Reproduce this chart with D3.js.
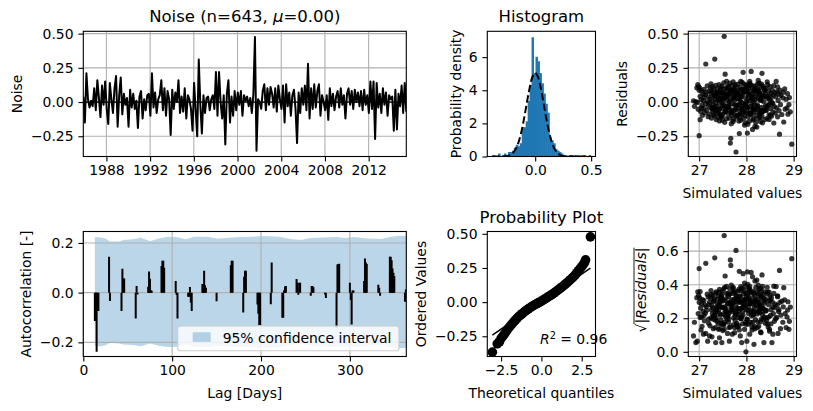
<!DOCTYPE html>
<html><head><meta charset="utf-8">
<script src="https://cdn.jsdelivr.net/npm/d3@7"></script>
<style>body{margin:0;background:#fff}svg text{font-family:"DejaVu Sans",sans-serif}</style>
</head><body><svg id="c" width="813" height="411"></svg>
<script>
// ---------------- DATA ----------------
const noiseStart = new Date(1985, 10, 20), noiseEnd = new Date(2015, 5, 12);
const noiseValues = [
0.04,-0.15,0.21,0.02,-0.04,0.01,-0.03,
0.10,-0.06,0.16,0.03,-0.11,0.12,-0.02,
0.15,-0.05,-0.16,0.14,0.02,-0.08,0.10,
0.19,-0.18,0.05,0.18,-0.09,0.06,-0.02,
0.03,-0.18,0.09,-0.04,0.06,-0.05,0.01,
-0.19,0.04,0.08,-0.12,0.02,-0.06,0.05,
0.06,-0.10,0.21,-0.04,0.07,-0.08,0.02,
0.05,0.16,-0.06,0.10,-0.10,0.08,0.02,
-0.24,0.09,-0.05,0.07,0.00,0.16,-0.08,
0.04,-0.07,0.10,-0.12,0.05,0.02,-0.05,
-0.21,0.14,-0.06,-0.25,0.31,-0.02,-0.23,
0.05,-0.08,0.03,0.04,-0.06,0.02,0.05,
-0.05,0.22,-0.10,0.22,0.00,-0.12,0.05,
-0.31,0.06,0.16,-0.15,0.04,-0.10,0.08,
-0.06,0.07,-0.02,0.08,-0.10,0.05,0.01,0.04,-0.03,
0.03,-0.08,0.06,0.475,-0.356,0.02,0.00,
-0.05,0.08,0.13,-0.06,0.10,-0.02,0.11,
0.06,-0.04,0.10,-0.07,0.12,0.02,-0.05,
0.12,-0.15,0.13,-0.03,0.07,-0.10,0.05,
0.09,-0.05,-0.30,0.07,-0.08,0.10,-0.02,
0.12,-0.06,0.28,-0.12,0.10,-0.05,0.13,
-0.04,0.08,0.13,-0.10,0.05,0.00,-0.06,
0.05,-0.13,0.10,-0.03,0.06,-0.06,0.04,
0.08,-0.04,0.10,-0.02,0.05,-0.12,0.06,
0.10,-0.02,0.08,-0.05,0.09,0.00,0.07,
-0.03,0.08,-0.06,0.09,-0.02,0.05,-0.08,
0.15,-0.05,0.15,-0.27,0.14,-0.04,0.06,
-0.08,0.10,-0.02,0.07,-0.10,0.05,0.02,
0.04,-0.21,0.09,-0.20,0.06,-0.03,0.12,
-0.08,0.14,-0.07];
const noiseYearTicks = [1988, 1992, 1996, 2000, 2004, 2008, 2012];
const noiseYTicks = [-0.25, 0, 0.25, 0.5];

const acfLags = [13,14,15,16,17, 29,30, 43,44,45,46, 59,60,61, 73,74,75,76,77, 88,89,90,91, 104,105,106,
  118,119,120,121,122, 134,135,136,137,138, 150, 166,167,168, 180,181,182,183, 196,197,198,199, 211,212,
  224,225,226,227,228, 240,241,242,243,244, 256,257,258,259, 272,273, 285,286,287,288, 300,301,302,303,304,
  316,317,318,319, 332,333,334, 345,346,347,348,349,350, 362,363];
const acfValues = [-0.114,-0.114,-0.238,-0.074,-0.074, 0.144,-0.034, -0.074,0.096,0.057,0.057, -0.104,0.027,-0.008,
  0.024,0.085,0.056,0.01,0.008, 0.107,0.128,0.128,0.10, 0.047,-0.01,-0.104, -0.017,-0.017,0.023,-0.04,-0.074,
  0.035,0.035,0.088,0.03,0.02, -0.035, 0.11,0.128,0.128, -0.08,0.064,0.088,0.088, -0.048,-0.085,-0.13,-0.13,
  -0.047,0.121, -0.101,-0.101,0.01,0.025,0.027, 0.055,0.04,-0.009,0.04,0.04, -0.013,0.027,0.027,0.022,
  -0.008,-0.022, -0.14,0.113,0.115,0.116, 0.04,-0.03,-0.128,0.009,0.009, 0.047,0.137,0.121,0.115,
  0.032,0.02,-0.013, 0.144,0.144,0.13,0.097,0.08,0.067, -0.037,0.013];
const confLags = [13,20,25,30,40,45,55,65,75,85,95,105,115,125,140,150,160,175,190,205,220,235,245,255,270,285,295,305,320,335,345,355,365];
const confUpper = [0.224,0.222,0.218,0.206,0.206,0.212,0.215,0.221,0.207,0.218,0.225,0.224,0.215,0.225,0.225,0.218,0.22,0.224,0.225,0.228,0.225,0.215,0.212,0.22,0.222,0.224,0.22,0.224,0.218,0.216,0.224,0.229,0.228];
const confLower = [-0.214,-0.216,-0.212,-0.203,-0.205,-0.209,-0.211,-0.216,-0.205,-0.214,-0.219,-0.218,-0.21,-0.219,-0.22,-0.213,-0.215,-0.219,-0.22,-0.223,-0.22,-0.21,-0.207,-0.215,-0.217,-0.219,-0.215,-0.219,-0.213,-0.212,-0.219,-0.224,-0.223];
const acfXTicks = [0, 100, 200, 300];
const acfYTicks = [-0.2, 0, 0.2];

const histLo = -0.384, histHi = 0.495;
const histDensity = [0.09,0,0,0.18,0,0.09,0.18,0.09,0.27,0.27,0.35,0.53,0.71,0.62,0.8,1.77,1.77,2.12,3.36,4.33,
  7.2,5.04,6.02,5.75,5.04,4.42,3.8,3.19,2.65,1.15,0.97,0.8,0.44,0.35,0.27,0.18,0.09,0.09,0,0.09,
  0.09,0,0.09,0.09,0,0,0.09,0,0,0.09];
const normX = [-0.384,-0.35,-0.3,-0.275,-0.25,-0.225,-0.2,-0.175,-0.15,-0.125,-0.1,-0.075,-0.05,-0.025,0,
  0.025,0.05,0.075,0.1,0.125,0.15,0.175,0.2,0.225,0.25,0.275,0.3,0.35,0.4,0.45,0.495];
const normY = [0,0.0003,0.004,0.012,0.034,0.087,0.206,0.435,0.835,1.45,2.27,3.22,4.13,4.80,5.05,
  4.80,4.13,3.22,2.27,1.45,0.835,0.435,0.206,0.087,0.034,0.012,0.004,0.0003,0,0,0];
const histXTicks = [0, 0.5];
const histYTicks = [0, 2, 4, 6];

const probQ = [-3.04,-2.74,-2.6,-2.5,-2.4,-2.3,-2.2,-2.1,-2.0,-1.9,-1.8,-1.7,-1.6,-1.5,-1.4,-1.3,-1.2,-1.1,-1.0,-0.9,
  -0.8,-0.7,-0.6,-0.5,-0.4,-0.3,-0.2,-0.1,0.0,0.1,0.2,0.3,0.4,0.5,0.6,0.7,0.8,0.9,1.0,1.1,1.2,1.3,1.4,1.5,1.6,
  1.7,1.8,1.9,2.0,2.1,2.2,2.3,2.4,2.5,2.6,2.68,2.74,3.04];
const probV = [-0.366,-0.305,-0.29,-0.265,-0.25,-0.235,-0.218,-0.2,-0.185,-0.17,-0.157,-0.143,-0.13,-0.117,-0.105,
  -0.095,-0.085,-0.075,-0.066,-0.057,-0.049,-0.041,-0.033,-0.026,-0.019,-0.012,-0.005,0.001,0.008,0.015,0.022,
  0.03,0.037,0.045,0.052,0.06,0.068,0.077,0.086,0.095,0.104,0.113,0.123,0.133,0.143,0.153,0.164,0.175,0.187,
  0.2,0.215,0.23,0.245,0.26,0.275,0.29,0.31,0.478];
const probLineQ = [-3.04, 3.04];
const probLineV = [-0.241, 0.249];
const probR2 = "0.96";
const probXTicks = [-2.5, 0, 2.5];

const simX = [
 26.88,26.9,26.93,26.95,26.97,26.98,26.99,27.0,27.0,26.96,
 27.01,27.02,27.02,27.03,27.04,27.05,27.06,27.07,27.08,27.09,27.1,27.1,27.11,27.12,27.13,27.14,27.14,27.15,27.16,27.17,27.18,27.19,27.2,27.2,27.05,
 27.21,27.22,27.23,27.24,27.25,27.26,27.26,27.27,27.28,27.29,27.3,27.3,27.31,27.32,27.33,27.33,27.34,27.35,27.35,27.36,27.37,27.38,27.38,27.39,27.4,27.22,27.25,27.28,27.31,27.34,27.37,27.4,27.27,27.36,27.29,
 27.41,27.42,27.42,27.43,27.44,27.45,27.45,27.46,27.47,27.48,27.48,27.49,27.5,27.5,27.51,27.52,27.53,27.53,27.54,27.55,27.55,27.56,27.57,27.58,27.58,27.59,27.6,27.6,27.43,27.46,27.49,27.52,27.55,27.58,27.44,27.47,27.5,27.53,27.56,27.59,
 27.61,27.62,27.62,27.63,27.64,27.65,27.66,27.66,27.67,27.68,27.69,27.7,27.7,27.71,27.72,27.73,27.74,27.75,27.75,27.76,27.77,27.78,27.78,27.79,27.8,27.63,27.66,27.69,27.72,27.75,27.78,27.64,27.67,27.7,27.73,27.76,27.79,27.61,27.68,27.74,
 27.81,27.82,27.82,27.83,27.84,27.85,27.85,27.86,27.87,27.88,27.89,27.9,27.9,27.91,27.92,27.93,27.93,27.94,27.95,27.96,27.97,27.98,27.98,27.99,28.0,27.83,27.86,27.89,27.92,27.95,27.98,27.84,27.87,27.91,27.94,27.97,28.0,27.81,27.88,27.96,27.99,
 28.01,28.02,28.02,28.03,28.04,28.04,28.05,28.06,28.07,28.08,28.09,28.1,28.1,28.11,28.12,28.13,28.13,28.14,28.15,28.16,28.17,28.18,28.18,28.19,28.2,28.03,28.06,28.09,28.12,28.15,28.18,28.05,28.08,28.11,28.14,28.17,28.2,28.01,28.07,28.16,
 28.21,28.22,28.22,28.23,28.24,28.25,28.26,28.27,28.28,28.29,28.3,28.3,28.31,28.32,28.33,28.33,28.34,28.35,28.36,28.37,28.38,28.39,28.4,28.23,28.26,28.29,28.32,28.35,28.38,28.25,28.28,28.31,28.34,28.37,28.4,
 28.41,28.42,28.43,28.44,28.45,28.46,28.47,28.48,28.49,28.5,28.51,28.52,28.53,28.54,28.55,28.56,28.57,28.58,28.58,28.59,28.6,28.44,28.48,28.52,28.56,
 28.61,28.62,28.63,28.64,28.65,28.66,28.67,28.68,28.69,28.7,28.71,28.72,28.73,28.75,28.77,28.79,28.78,28.66,
 28.81,28.82,28.84,28.86,28.87,28.88,28.9,28.91,28.93,28.96,
 27.32,27.36,27.41,27.45,27.49,27.52,27.57,27.61,27.65,27.69,27.72,27.77,27.81,27.85,27.88,27.92,27.96,28.01,28.05,28.09,28.13,28.17,28.21,28.26,28.3,28.34,28.38,28.43,28.47,28.51,
 27.34,27.38,27.43,27.47,27.54,27.59,27.63,27.67,27.71,27.76,27.8,27.84,27.9,27.94,27.99,28.03,28.07,28.12,28.15,28.19,28.24,28.28,28.32,28.36,28.41,28.45,28.49,28.27,27.86,27.56];
const simRes = [
 0.009,-0.031,0.003,0.104,0.128,-0.052,0.113,-0.246,0.087,-0.004,
 0.103,-0.129,0.042,-0.068,0.017,0.081,-0.023,-0.097,0.058,0.011,-0.047,0.093,0.034,-0.078,0.053,0.278,-0.012,0.072,-0.061,0.118,0.004,-0.107,0.038,-0.029,-0.043,
 0.079,-0.088,0.024,0.103,-0.041,0.063,-0.117,0.008,0.112,-0.069,0.044,-0.019,0.092,-0.101,0.314,0.048,-0.057,0.122,-0.003,-0.128,0.071,-0.033,0.098,-0.081,0.028,-0.009,0.133,-0.052,-0.091,0.021,0.059,-0.112,0.077,0.041,-0.038,
 0.062,-0.079,0.127,-0.138,0.019,0.089,-0.048,0.036,-0.108,0.117,0.003,-0.027,0.069,-0.092,0.051,0.141,0.48,-0.018,-0.148,0.204,0.032,-0.068,0.101,-0.121,0.057,-0.039,0.083,0.012,-0.007,0.108,-0.131,0.026,-0.063,0.152,0.073,-0.102,0.016,0.094,-0.044,0.047,
 -0.083,0.109,-0.031,0.052,-0.118,0.139,-0.30,0.022,-0.265,0.087,-0.058,0.121,-0.011,0.067,-0.142,0.041,0.098,-0.089,0.013,0.128,-0.053,-0.365,0.079,-0.109,0.029,-0.038,0.061,-0.097,0.148,-0.021,0.112,0.004,-0.072,0.083,-0.127,0.048,-0.026,0.119,-0.158,0.091,
 0.068,-0.097,0.131,-0.042,0.024,-0.23,0.088,-0.066,0.107,-0.133,0.039,-0.003,-0.087,0.143,0.058,0.217,-0.048,-0.119,0.097,-0.018,0.078,-0.152,0.031,0.123,-0.062,0.049,-0.111,0.091,-0.028,0.132,-0.077,-0.139,0.009,-0.069,0.073,-0.098,0.109,-0.022,0.151,-0.168,0.0,
 0.092,-0.227,-0.037,0.118,-0.107,0.027,0.072,-0.141,0.011,0.129,-0.057,0.224,-0.092,0.046,-0.017,-0.20,0.103,-0.131,0.081,0.002,-0.071,-0.178,0.113,0.037,-0.098,-0.162,0.137,-0.031,0.061,-0.122,0.019,0.099,-0.082,0.124,-0.049,0.088,-0.148,-0.004,0.152,-0.059,
 0.057,-0.183,0.127,-0.051,0.097,-0.118,0.023,0.138,-0.078,0.068,-0.143,0.032,0.109,-0.038,0.21,-0.102,0.049,0.117,-0.067,0.003,0.091,-0.128,0.062,-0.021,0.083,-0.113,0.131,-0.058,0.043,0.158,-0.088,0.013,-0.152,0.102,-0.029,
 0.098,-0.061,0.041,-0.119,0.127,-0.022,0.079,-0.093,0.018,0.112,-0.047,0.063,-0.104,-0.003,0.088,-0.072,0.052,-0.153,0.121,-0.033,0.069,0.148,-0.127,0.028,-0.011,
 -0.081,0.039,0.151,-0.042,0.077,-0.108,0.012,0.058,-0.063,-0.235,0.087,-0.019,0.048,-0.091,0.031,-0.146,0.072,0.111,
 0.096,-0.052,0.021,-0.043,0.062,-0.089,-0.018,0.033,-0.071,-0.308,
 0.047,-0.062,0.018,-0.093,0.071,-0.028,0.057,-0.046,0.088,-0.079,0.026,-0.054,0.064,-0.017,0.039,-0.071,0.093,-0.038,0.052,-0.086,0.031,-0.023,0.076,-0.058,0.014,-0.067,0.084,-0.035,0.043,-0.095,
 -0.036,0.068,-0.052,0.029,-0.072,0.044,-0.021,0.081,-0.064,0.035,-0.098,0.058,-0.044,0.073,-0.027,0.062,-0.083,0.022,-0.049,0.091,-0.032,0.055,-0.076,0.038,-0.059,0.027,-0.015,0.066,-0.088,0.049];
const simXTicks = [27, 28, 29];
const sqYTicks = [0, 0.2, 0.4, 0.6];

// ---------------- DRAW ----------------
const svg = d3.select('#c');
svg.append('rect').attr('width', 813).attr('height', 411).attr('fill', '#fff');
const FS = 13.9, TFS = 16.5, GRID = '#b0b0b0', LW = 1.1;
const FONT = '"DejaVu Sans", sans-serif';
const P = {
  noise: {x0: 83.3, x1: 406.3, y0: 31.3, y1: 156.5},
  acf:   {x0: 83.3, x1: 406.3, y0: 231.5, y1: 356.5},
  hist:  {x0: 487.3, x1: 595.5, y0: 31.3, y1: 156.5},
  prob:  {x0: 487.3, x1: 595.5, y0: 231.5, y1: 356.5},
  res:   {x0: 688.3, x1: 796.5, y0: 31.3, y1: 156.5},
  sq:    {x0: 688.3, x1: 796.5, y0: 231.5, y1: 356.5}
};
const defs = svg.append('defs');
Object.entries(P).forEach(([k, p]) => {
  defs.append('clipPath').attr('id', 'clip-' + k).append('rect')
    .attr('x', p.x0).attr('y', p.y0).attr('width', p.x1 - p.x0).attr('height', p.y1 - p.y0);
});
const fmt2 = d3.format('.2f'), fmt1 = d3.format('.1f'), fmt0 = d3.format('d');

function styleAxis(g) {
  g.select('.domain').remove();
  g.selectAll('line').attr('stroke', '#000').attr('stroke-width', LW);
  g.selectAll('text').attr('font-size', FS).attr('font-family', FONT).attr('fill', '#000');
}
function xAxis(p, sc, vals, f) {
  svg.append('g').attr('transform', `translate(0,${p.y1})`)
    .call(d3.axisBottom(sc).tickValues(vals).tickFormat(f).tickSize(4.9).tickPadding(4.2)).call(styleAxis);
}
function yAxis(p, sc, vals, f) {
  svg.append('g').attr('transform', `translate(${p.x0},0)`)
    .call(d3.axisLeft(sc).tickValues(vals).tickFormat(f).tickSize(4.9).tickPadding(4.9)).call(styleAxis);
}
function grid(p, xs, xv, ys, yv) {
  const g = svg.append('g');
  g.selectAll('.gx').data(xv).enter().append('line')
    .attr('x1', d => xs(d)).attr('x2', d => xs(d)).attr('y1', p.y0).attr('y2', p.y1)
    .attr('stroke', GRID).attr('stroke-width', LW);
  g.selectAll('.gy').data(yv).enter().append('line')
    .attr('x1', p.x0).attr('x2', p.x1).attr('y1', d => ys(d)).attr('y2', d => ys(d))
    .attr('stroke', GRID).attr('stroke-width', LW);
}
function frame(p) {
  svg.append('rect').attr('x', p.x0).attr('y', p.y0).attr('width', p.x1 - p.x0).attr('height', p.y1 - p.y0)
    .attr('fill', 'none').attr('stroke', '#000').attr('stroke-width', LW);
}
function ylabel(x, y, txt) {
  svg.append('text').attr('transform', `translate(${x},${y}) rotate(-90)`).attr('text-anchor', 'middle')
    .attr('font-size', FS).attr('fill', '#000').text(txt);
}
function xlabel(x, y, txt) {
  svg.append('text').attr('x', x).attr('y', y).attr('text-anchor', 'middle')
    .attr('font-size', FS).attr('fill', '#000').text(txt);
}
function title(p, y, txt) {
  return svg.append('text').attr('x', (p.x0 + p.x1) / 2).attr('y', y).attr('text-anchor', 'middle')
    .attr('font-size', TFS).attr('fill', '#000').text(txt);
}

// ---- Noise panel ----
{
  const p = P.noise;
  const x = d3.scaleTime().domain([noiseStart, noiseEnd]).range([p.x0, p.x1]);
  const y = d3.scaleLinear().domain([-0.398, 0.517]).range([p.y1, p.y0]);
  const step = (noiseEnd - noiseStart) / (noiseValues.length - 1);
  const pts = noiseValues.map((v, i) => [new Date(+noiseStart + i * step), v]);
  const tickDates = noiseYearTicks.map(yr => new Date(yr, 0, 1));
  grid(p, x, tickDates, y, noiseYTicks);
  const g = svg.append('g').attr('clip-path', 'url(#clip-noise)');
  g.append('line').attr('x1', p.x0).attr('x2', p.x1).attr('y1', y(0)).attr('y2', y(0))
    .attr('stroke', '#000').attr('stroke-width', 1.2);
  g.append('path').datum(pts).attr('fill', 'none').attr('stroke', '#000').attr('stroke-width', 2)
    .attr('stroke-linejoin', 'round')
    .attr('d', d3.line().x(d => x(d[0])).y(d => y(d[1])));
  frame(p);
  xAxis(p, x, tickDates, d3.timeFormat('%Y'));
  yAxis(p, y, noiseYTicks, fmt2);
  ylabel(21.7, (p.y0 + p.y1) / 2, 'Noise');
  const t = svg.append('text').attr('x', (p.x0 + p.x1) / 2).attr('y', 22).attr('text-anchor', 'middle')
    .attr('font-size', TFS).attr('fill', '#000');
  t.append('tspan').text('Noise (n=643, ');
  t.append('tspan').attr('font-style', 'italic').text('μ');
  t.append('tspan').text('=0.00)');
}

// ---- ACF panel ----
{
  const p = P.acf;
  const x = d3.scaleLinear().domain([0, 363.5]).range([p.x0, p.x1]);
  const y = d3.scaleLinear().domain([-0.257, 0.246]).range([p.y1, p.y0]);
  const g = svg.append('g').attr('clip-path', 'url(#clip-acf)');
  const band = confLags.map((l, i) => [l, confLower[i], confUpper[i]]);
  g.append('path').datum(band).attr('fill', '#1f77b4').attr('fill-opacity', 0.3)
    .attr('d', d3.area().x(d => x(d[0])).y0(d => y(d[1])).y1(d => y(d[2])));
  grid(p, x, acfXTicks, y, acfYTicks);
  const g2 = svg.append('g').attr('clip-path', 'url(#clip-acf)');
  g2.selectAll('line').data(acfLags.map((l, i) => [l, acfValues[i]])).enter().append('line')
    .attr('x1', d => x(d[0])).attr('x2', d => x(d[0]))
    .attr('y1', y(0)).attr('y2', d => y(d[1]))
    .attr('stroke', '#000').attr('stroke-width', 2);
  const lg = svg.append('g');
  lg.append('rect').attr('x', 177.7).attr('y', 326).attr('width', 221.3).attr('height', 24.7).attr('rx', 2.8)
    .attr('fill', '#fff').attr('fill-opacity', 0.8).attr('stroke', '#cccccc').attr('stroke-width', LW);
  lg.append('rect').attr('x', 192.7).attr('y', 332.3).attr('width', 18).attr('height', 9.6)
    .attr('fill', '#1f77b4').attr('fill-opacity', 0.3);
  lg.append('text').attr('x', 222.7).attr('y', 343).attr('font-size', FS).attr('fill', '#000').text('95% confidence interval');
  frame(p);
  xAxis(p, x, acfXTicks, fmt0);
  yAxis(p, y, acfYTicks, fmt1);
  ylabel(30.7, (p.y0 + p.y1) / 2, 'Autocorrelation [-]');
  xlabel((p.x0 + p.x1) / 2, 397.5, 'Lag [Days]');
}

// ---- Histogram ----
{
  const p = P.hist;
  const x = d3.scaleLinear().domain([-0.428, 0.539]).range([p.x0, p.x1]);
  const y = d3.scaleLinear().domain([0, 7.56]).range([p.y1, p.y0]);
  const bw = (histHi - histLo) / histDensity.length;
  const g = svg.append('g').attr('clip-path', 'url(#clip-hist)');
  g.selectAll('rect').data(histDensity).enter().append('rect')
    .attr('x', (d, i) => x(histLo + i * bw)).attr('width', (d, i) => x(histLo + (i + 1) * bw) - x(histLo + i * bw) + 0.5)
    .attr('y', d => y(d)).attr('height', d => y(0) - y(d)).attr('fill', '#1f77b4');
  g.append('path').datum(normX.map((v, i) => [v, normY[i]])).attr('fill', 'none').attr('stroke', '#000')
    .attr('stroke-width', 2).attr('stroke-dasharray', '7.4,3.2')
    .attr('d', d3.line().curve(d3.curveCatmullRom).x(d => x(d[0])).y(d => y(d[1])));
  frame(p);
  xAxis(p, x, histXTicks, fmt1);
  yAxis(p, y, histYTicks, fmt0);
  ylabel(460.7, (p.y0 + p.y1) / 2, 'Probability density');
  title(p, 22, 'Histogram');
}

// ---- Probability plot ----
{
  const p = P.prob;
  const x = d3.scaleLinear().domain([-3.355, 3.355]).range([p.x0, p.x1]);
  const y = d3.scaleLinear().domain([-0.398, 0.517]).range([p.y1, p.y0]);
  const g = svg.append('g').attr('clip-path', 'url(#clip-prob)');
  g.selectAll('circle').data(probQ.map((q, i) => [q, probV[i]])).enter().append('circle')
    .attr('cx', d => x(d[0])).attr('cy', d => y(d[1])).attr('r', 4.8).attr('fill', '#000');
  g.append('line').attr('x1', x(probLineQ[0])).attr('y1', y(probLineV[0]))
    .attr('x2', x(probLineQ[1])).attr('y2', y(probLineV[1])).attr('stroke', '#000').attr('stroke-width', 1.5);
  frame(p);
  xAxis(p, x, probXTicks, fmt1);
  yAxis(p, y, noiseYTicks, fmt2);
  ylabel(425.6, (p.y0 + p.y1) / 2, 'Ordered Values');
  xlabel((p.x0 + p.x1) / 2, 397.5, 'Theoretical quantiles');
  title(p, 222.5, 'Probability Plot');
  const t = svg.append('text').attr('x', 540).attr('y', 344.3).attr('font-size', FS).attr('fill', '#000');
  t.append('tspan').attr('font-style', 'italic').text('R');
  t.append('tspan').attr('font-size', FS * 0.7).attr('dy', -5.5).text('2');
  t.append('tspan').attr('dy', 5.5).text(' = ' + probR2);
}

// ---- Residuals vs simulated ----
const simPts = d3.zip(simX, simRes);
{
  const p = P.res;
  const x = d3.scaleLinear().domain([26.77, 29.06]).range([p.x0, p.x1]);
  const y = d3.scaleLinear().domain([-0.398, 0.517]).range([p.y1, p.y0]);
  grid(p, x, simXTicks, y, noiseYTicks);
  const g = svg.append('g').attr('clip-path', 'url(#clip-res)');
  g.selectAll('circle').data(simPts).enter().append('circle')
    .attr('cx', d => x(d[0])).attr('cy', d => y(d[1])).attr('r', 2.6).attr('fill', '#000').attr('fill-opacity', 0.78);
  frame(p);
  xAxis(p, x, simXTicks, fmt0);
  yAxis(p, y, noiseYTicks, fmt2);
  ylabel(626.9, (p.y0 + p.y1) / 2, 'Residuals');
  xlabel((p.x0 + p.x1) / 2, 197.5, 'Simulated values');
}

// ---- sqrt |residuals| vs simulated ----
{
  const p = P.sq;
  const x = d3.scaleLinear().domain([26.77, 29.06]).range([p.x0, p.x1]);
  const y = d3.scaleLinear().domain([-0.028, 0.717]).range([p.y1, p.y0]);
  grid(p, x, simXTicks, y, sqYTicks);
  const g = svg.append('g').attr('clip-path', 'url(#clip-sq)');
  g.selectAll('circle').data(simPts.map(d => [d[0], Math.sqrt(Math.abs(d[1]))])).enter().append('circle')
    .attr('cx', d => x(d[0])).attr('cy', d => y(d[1])).attr('r', 2.6).attr('fill', '#000').attr('fill-opacity', 0.78);
  frame(p);
  xAxis(p, x, simXTicks, fmt0);
  yAxis(p, y, sqYTicks, fmt1);
  xlabel((p.x0 + p.x1) / 2, 397.5, 'Simulated values');
  const lg = svg.append('g').attr('transform', `translate(646,290) rotate(-90)`);
  const t = lg.append('text').attr('text-anchor', 'middle').attr('font-size', FS).attr('fill', '#000');
  const t1 = t.append('tspan').text('√');
  t.append('tspan').attr('font-style', 'italic').text('|Residuals|');
  const bb = t.node().getBBox();
  const l1 = t1.node().getComputedTextLength();
  lg.append('line').attr('x1', bb.x + l1 - 0.5).attr('x2', bb.x + bb.width).attr('y1', bb.y + 1).attr('y2', bb.y + 1)
    .attr('stroke', '#000').attr('stroke-width', 0.9);
}
</script></body></html>
